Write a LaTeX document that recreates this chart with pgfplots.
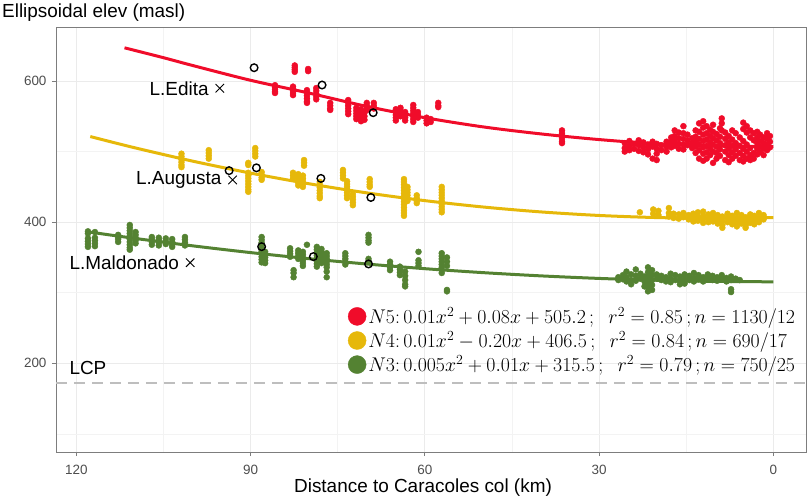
\RequirePackage{fix-cm}
\documentclass[border=0pt]{standalone}
\usepackage{fontspec}
\setmainfont{Liberation Sans}
\usepackage{pgfplots}
\usepackage{pgfplotstable}
\pgfplotsset{compat=1.18}
\definecolor{nred}{RGB}{240,12,42}
\definecolor{nyel}{RGB}{230,184,10}
\definecolor{ngrn}{RGB}{84,130,50}
\definecolor{gridc}{RGB}{235,235,235}
\definecolor{framec}{RGB}{125,125,125}
\definecolor{ticklab}{RGB}{77,77,77}

\pgfplotstableread[row sep=\\]{
x y\\
85.8 594\\85.8 591\\85.8 588\\85.8 585\\85.8 583\\
82.4 622\\82.4 619\\82.4 616\\82.4 613\\
82.7 592\\82.7 589\\82.7 586\\82.7 583\\82.7 580\\
80.1 617\\80.1 614\\
80.3 587\\80.3 583\\80.3 579\\80.3 575\\80.3 571\\80.3 569\\
78.7 590\\78.7 586\\78.7 582\\78.7 578\\78.7 574\\
76.3 569\\76.3 565\\76.3 561\\76.3 559\\
73.2 573\\73.2 569\\73.2 565\\73.2 561\\73.2 557\\73.2 553\\
71.8 562\\71.8 558\\71.8 554\\71.8 550\\71.8 546\\
71.0 560\\71.0 556\\71.0 552\\71.0 548\\71.0 543\\
70.4 555\\70.4 550\\70.4 545\\
70.0 569\\70.0 565\\70.0 561\\70.0 559\\
68.8 569\\68.8 565\\68.8 561\\
65.0 560\\65.0 556\\65.0 552\\65.0 548\\65.0 544\\
64.2 562\\64.2 558\\64.2 554\\64.2 550\\
63.4 556\\63.4 552\\63.4 548\\63.4 544\\
62.0 566\\62.0 562\\62.0 558\\62.0 554\\62.0 550\\62.0 546\\62.0 542\\
61.2 556\\61.2 552\\61.2 548\\
59.7 548\\59.7 544\\59.7 540\\
59.0 546\\59.0 542\\
57.7 569\\57.7 565\\57.7 563\\
36.4 530\\36.4 526\\36.4 522\\36.4 518\\36.4 514\\36.4 512\\
25.6 512\\25.6 505\\25.6 500\\
24.8 515\\24.8 508\\24.8 502\\
24.0 511\\24.0 504\\
23.2 516\\23.2 509\\23.2 501\\
22.4 513\\22.4 506\\22.4 499\\
21.6 510\\21.6 503\\21.6 496\\
20.8 514\\20.8 507\\20.8 490\\
20.1 511\\20.1 504\\20.1 497\\20.1 488\\
19.3 509\\19.3 502\\
18.4 514\\18.4 507\\18.4 500\\
17.6 520\\17.6 513\\17.6 506\\
17.0 530\\17.0 522\\17.0 515\\17.0 508\\
16.3 527\\16.3 519\\16.3 511\\16.3 504\\
15.5 536\\15.5 526\\15.5 518\\15.5 510\\15.5 503\\
14.8 524\\14.8 516\\14.8 509\\
14.0 519\\14.0 512\\14.0 505\\
13.4 530\\13.4 521\\13.4 514\\13.4 507\\13.4 498\\
12.8 540\\12.8 528\\12.8 518\\12.8 510\\12.8 502\\12.8 490\\
12.1 543\\12.1 534\\12.1 524\\12.1 515\\12.1 506\\12.1 497\\12.1 487\\
11.5 536\\11.5 526\\11.5 517\\11.5 508\\11.5 499\\11.5 490\\
10.9 531\\10.9 522\\10.9 513\\10.9 504\\10.9 495\\
10.4 538\\10.4 528\\10.4 519\\10.4 510\\10.4 500\\10.4 484\\
9.8 525\\9.8 516\\9.8 507\\9.8 498\\9.8 490\\
9.2 533\\9.2 521\\9.2 512\\9.2 503\\9.2 494\\
8.9 547\\8.9 540\\8.9 530\\
8.3 527\\8.3 518\\8.3 509\\8.3 500\\8.3 488\\
7.7 522\\7.7 513\\7.7 504\\7.7 495\\7.7 485\\
7.1 530\\7.1 517\\7.1 508\\7.1 499\\7.1 490\\
6.5 526\\6.5 512\\6.5 503\\6.5 494\\
5.8 520\\5.8 508\\5.8 498\\5.8 488\\
5.2 541\\5.2 532\\5.2 515\\5.2 504\\5.2 494\\5.2 486\\
4.6 536\\4.6 527\\4.6 510\\4.6 500\\4.6 490\\
4.0 530\\4.0 520\\4.0 505\\4.0 495\\4.0 488\\
3.4 526\\3.4 516\\3.4 498\\3.4 490\\
2.8 528\\2.8 520\\2.8 512\\2.8 504\\2.8 496\\
2.3 524\\2.3 515\\2.3 507\\2.3 499\\
1.7 520\\1.7 512\\1.7 504\\1.7 495\\
1.1 526\\1.1 518\\1.1 510\\1.1 502\\
0.6 522\\0.6 514\\0.6 506\\
}\redpts

\pgfplotstableread[row sep=\\]{
x y\\
101.9 497\\101.9 493\\101.9 489\\101.9 485\\101.9 481\\101.9 478\\
97.2 502\\97.2 498\\97.2 494\\97.2 490\\
90.4 484\\90.4 481\\90.4 470\\90.4 466\\90.4 462\\90.4 458\\90.4 454\\90.4 450\\90.4 446\\90.4 443\\
89.2 505\\89.2 501\\89.2 497\\89.2 493\\
88.1 471\\88.1 467\\88.1 463\\88.1 460\\
82.7 470\\82.7 466\\82.7 462\\
81.8 468\\81.8 464\\81.8 460\\81.8 456\\81.8 452\\
81.0 466\\81.0 462\\81.0 458\\81.0 454\\81.0 450\\
80.8 488\\80.8 484\\80.8 480\\
78.1 457\\78.1 453\\78.1 449\\78.1 445\\78.1 441\\78.1 437\\78.1 434\\
74.1 474\\74.1 470\\74.1 466\\74.1 462\\
73.4 458\\73.4 454\\73.4 450\\73.4 446\\73.4 442\\73.4 438\\73.4 434\\
72.4 440\\72.4 436\\72.4 432\\72.4 428\\72.4 424\\
69.5 461\\69.5 457\\69.5 453\\69.5 450\\
63.6 461\\63.6 457\\63.6 453\\63.6 449\\63.6 445\\63.6 441\\63.6 437\\63.6 433\\63.6 429\\63.6 425\\63.6 421\\63.6 417\\63.6 413\\63.6 409\\
63.0 450\\63.0 446\\63.0 442\\63.0 438\\63.0 434\\63.0 430\\
61.4 438\\61.4 434\\61.4 430\\61.4 427\\
57.1 450\\57.1 446\\57.1 442\\57.1 438\\57.1 434\\57.1 430\\57.1 426\\57.1 422\\57.1 418\\57.1 414\\
23.0 414\\
20.7 418\\20.7 412\\
19.8 416\\19.8 410\\
18.0 420\\18.0 413\\18.0 408\\
17.2 412\\17.2 406\\
16.3 411\\16.3 405\\
15.5 413\\15.5 407\\
14.6 410\\14.6 404\\
13.8 412\\13.8 406\\13.8 401\\
13.0 414\\13.0 408\\13.0 402\\
12.1 415\\12.1 409\\12.1 404\\12.1 399\\
11.2 411\\11.2 405\\11.2 400\\
10.4 413\\10.4 407\\10.4 401\\
9.6 410\\9.6 404\\9.6 398\\
8.8 408\\8.8 402\\8.8 396\\8.8 392\\
7.9 412\\7.9 406\\7.9 400\\
7.1 409\\7.1 403\\7.1 397\\
6.3 413\\6.3 406\\6.3 400\\6.3 394\\
5.5 410\\5.5 404\\5.5 398\\
4.8 407\\4.8 401\\4.8 395\\4.8 392\\
4.0 411\\4.0 405\\4.0 399\\
3.3 409\\3.3 403\\3.3 397\\
2.5 413\\2.5 406\\2.5 400\\
1.7 410\\1.7 404\\
}\yelpts

\pgfplotstableread[row sep=\\]{
x y\\
118.0 387\\118.0 384\\118.0 377\\118.0 373\\118.0 369\\118.0 365\\
116.8 386\\116.8 378\\116.8 374\\116.8 370\\116.8 366\\
112.8 382\\112.8 379\\112.8 376\\112.8 372\\
110.8 396\\110.8 392\\110.8 388\\110.8 384\\110.8 380\\110.8 376\\110.8 372\\110.8 368\\110.8 364\\110.8 361\\
109.8 386\\109.8 382\\109.8 378\\109.8 374\\109.8 370\\
107.0 379\\107.0 376\\107.0 372\\107.0 368\\
105.8 378\\105.8 375\\105.8 371\\105.8 367\\
104.6 377\\104.6 373\\104.6 369\\
103.5 376\\103.5 372\\103.5 368\\103.5 365\\
101.3 379\\101.3 375\\101.3 371\\101.3 367\\
88.1 379\\88.1 375\\88.1 371\\88.1 367\\88.1 363\\88.1 359\\88.1 355\\88.1 351\\88.1 347\\88.1 343\\
87.5 358\\87.5 354\\87.5 350\\87.5 346\\87.5 342\\
83.2 363\\83.2 359\\83.2 355\\83.2 351\\
82.6 332\\82.6 328\\82.6 322\\
81.8 360\\81.8 356\\81.8 352\\81.8 348\\
81.0 358\\81.0 354\\81.0 350\\81.0 346\\81.0 342\\81.0 338\\
80.3 368\\
78.6 365\\78.6 361\\78.6 357\\78.6 353\\78.6 349\\78.6 345\\78.6 341\\78.6 337\\
77.8 362\\77.8 358\\77.8 354\\77.8 350\\77.8 346\\77.8 342\\
76.9 356\\76.9 352\\76.9 348\\76.9 344\\76.9 340\\76.9 336\\76.9 330\\76.9 322\\
73.7 356\\73.7 352\\73.7 348\\73.7 344\\73.7 340\\
69.7 382\\69.7 378\\69.7 374\\69.7 371\\69.7 348\\69.7 344\\
66.0 344\\66.0 340\\66.0 336\\66.0 332\\
64.3 337\\64.3 333\\64.3 329\\64.3 325\\
63.4 330\\63.4 324\\63.4 318\\63.4 312\\63.4 309\\
61.1 358\\61.1 346\\61.1 342\\61.1 338\\
57.1 356\\57.1 352\\57.1 348\\57.1 344\\57.1 340\\57.1 336\\57.1 332\\57.1 328\\
56.2 350\\56.2 344\\56.2 338\\56.2 304\\56.2 302\\
26.7 322\\26.7 318\\
25.9 325\\25.9 319\\
25.3 330\\25.3 322\\25.3 316\\
24.5 326\\24.5 318\\24.5 312\\
23.7 333\\23.7 324\\23.7 317\\
22.9 327\\22.9 320\\
22.2 323\\22.2 316\\22.2 309\\
21.6 336\\21.6 329\\21.6 322\\21.6 315\\21.6 308\\21.6 302\\
20.9 332\\20.9 325\\20.9 318\\20.9 311\\20.9 304\\
20.1 326\\20.1 320\\
19.3 324\\19.3 318\\
18.5 322\\18.5 316\\
17.7 327\\17.7 320\\17.7 315\\
16.9 325\\16.9 318\\
16.1 323\\16.1 317\\16.1 312\\
15.3 326\\15.3 319\\15.3 313\\
14.5 324\\14.5 318\\
13.7 328\\13.7 321\\13.7 316\\
12.9 325\\12.9 319\\
12.1 322\\12.1 316\\
11.3 326\\11.3 320\\
10.5 324\\10.5 318\\
9.7 322\\9.7 317\\
8.9 325\\8.9 319\\
8.1 321\\8.1 316\\
7.3 323\\7.3 318\\7.3 305\\7.3 301\\
6.5 320\\
5.8 318\\
}\grnpts

\pgfplotstableread[row sep=\\]{
x y\\
111.7 647\\105 633\\100 622\\90 601\\80 583\\70 564\\60 548\\50 535\\40 525\\30 517\\20 511\\10 508\\0 507\\
}\redfit
\pgfplotstableread[row sep=\\]{
x y\\
117.6 521.3\\110 505.5\\100 486.5\\90 469.5\\80 454.5\\70 441.5\\60 430.5\\50 421.5\\40 414.5\\30 409.5\\20 406.5\\10 405.5\\0 406.5\\
}\yelfit
\pgfplotstableread[row sep=\\]{
x y\\
117.9 386.2\\110 377.1\\100 366.5\\90 356.9\\80 348.3\\70 340.7\\60 334.1\\50 328.5\\40 323.9\\30 320.3\\20 317.7\\10 316.1\\0 315.5\\
}\grnfit

\begin{document}
\begin{tikzpicture}
\begin{axis}[
  at={(0,0)}, anchor=south west,
  scale only axis, width=750bp, height=425bp,
  x dir=reverse,
  xmin=-5.6, xmax=123.5, ymin=74.4, ymax=676.5,
  xtick={0,30,60,90,120}, minor xtick={15,45,75,105},
  ytick={200,400,600}, minor ytick={100,300,500},
  grid=both,
  major grid style={draw=gridc, line width=0.9bp},
  minor grid style={draw=gridc!60!white, line width=0.6bp},
  axis line style={draw=framec, line width=0.9bp},
  tick style={draw=framec, line width=0.9bp},
  tick align=outside, major tick length=4bp, minor tick length=0pt,
  tick pos=left,
  /pgf/number format/assume math mode=true,
  tick label style={font=\fontsize{13.5}{15}\selectfont, text=ticklab},
  xticklabel style={yshift=-6bp},
  yticklabel style={xshift=-2bp},
  legend style={at={(rel axis cs:0.389,0.345)}, anchor=north west, draw=none, fill=none,
    font=\fontsize{19.9}{22}\selectfont, row sep=2.5bp, inner sep=0pt},
  legend cell align=left,
  clip=true,
]
\addplot[only marks, mark=*, mark size=3bp, color=nred, mark options={draw=nred, fill=nred},
  legend image code/.code={\fill[nred] (9bp,0) circle (9bp);}] table {\redpts};
\addlegendentry{$N5\mathpunct{:}0.01x^2 + 0.08x + 505.2\,;\ \ r^2 = 0.85\,;n = 1130/12$}
\addplot[only marks, mark=*, mark size=3bp, color=nyel, mark options={draw=nyel, fill=nyel},
  legend image code/.code={\fill[nyel] (9bp,0) circle (9bp);}] table {\yelpts};
\addlegendentry{$N4\mathpunct{:}0.01x^2 - 0.20x + 406.5\,;\ \ r^2 = 0.84\,;n = 690/17$}
\addplot[only marks, mark=*, mark size=3bp, color=ngrn, mark options={draw=ngrn, fill=ngrn},
  legend image code/.code={\fill[ngrn] (9bp,0) circle (9bp);}] table {\grnpts};
\addlegendentry{$N3\mathpunct{:}0.005x^2 + 0.01x + 315.5\,;\ \ r^2 = 0.79\,;n = 750/25$}

\addplot[forget plot, draw=nred, line width=3bp, smooth, no marks] table {\redfit};
\addplot[forget plot, draw=nyel, line width=3bp, smooth, no marks] table {\yelfit};
\addplot[forget plot, draw=ngrn, line width=3bp, smooth, no marks] table {\grnfit};

\addplot[forget plot, draw={rgb,255:red,190;green,190;blue,190}, line width=2.4bp, dash pattern=on 11bp off 7bp] coordinates {(123.5,172.5) (-5.6,172.5)};

\addplot[forget plot, only marks, mark=o, mark size=3.8bp, mark options={draw=black, fill=white, line width=1.4bp}] coordinates {
(89.4,618.8) (77.7,594.3) (68.9,555.1)
(93.7,473) (89.0,477) (77.9,462) (69.3,435)
(88.1,365.3) (79.2,351.2) (69.7,340.8)};

\addplot[forget plot, only marks, mark=x, mark size=6bp, mark options={draw=black, line width=0.9bp}] coordinates {
(95.3,589.7) (93.1,459.8) (100.4,342.6)};

\node[anchor=east, inner sep=0pt, font=\fontsize{19}{22}\selectfont, xshift=-11bp] at (axis cs:95.3,589.7) {L.Edita};
\node[anchor=east, inner sep=0pt, font=\fontsize{19}{22}\selectfont, xshift=-11bp] at (axis cs:93.1,459.8) {L.Augusta};
\node[anchor=east, inner sep=0pt, font=\fontsize{19}{22}\selectfont, xshift=-11bp] at (axis cs:100.4,342.6) {L.Maldonado};
\node[anchor=base west, inner sep=0pt, font=\fontsize{19}{22}\selectfont] at (axis cs:121.2,184.8) {LCP};
\end{axis}
\node[anchor=base west, inner sep=0pt, font=\fontsize{19}{22}\selectfont] at (-54bp,434.7bp) {Ellipsoidal elev (masl)};
\node[anchor=base, inner sep=0pt, font=\fontsize{19}{22}\selectfont] at (367bp,-40bp) {Distance to Caracoles col (km)};
\pgfresetboundingbox
\path[use as bounding box] (-56bp,-47bp) rectangle (753bp,452bp);
\end{tikzpicture}
\end{document}
